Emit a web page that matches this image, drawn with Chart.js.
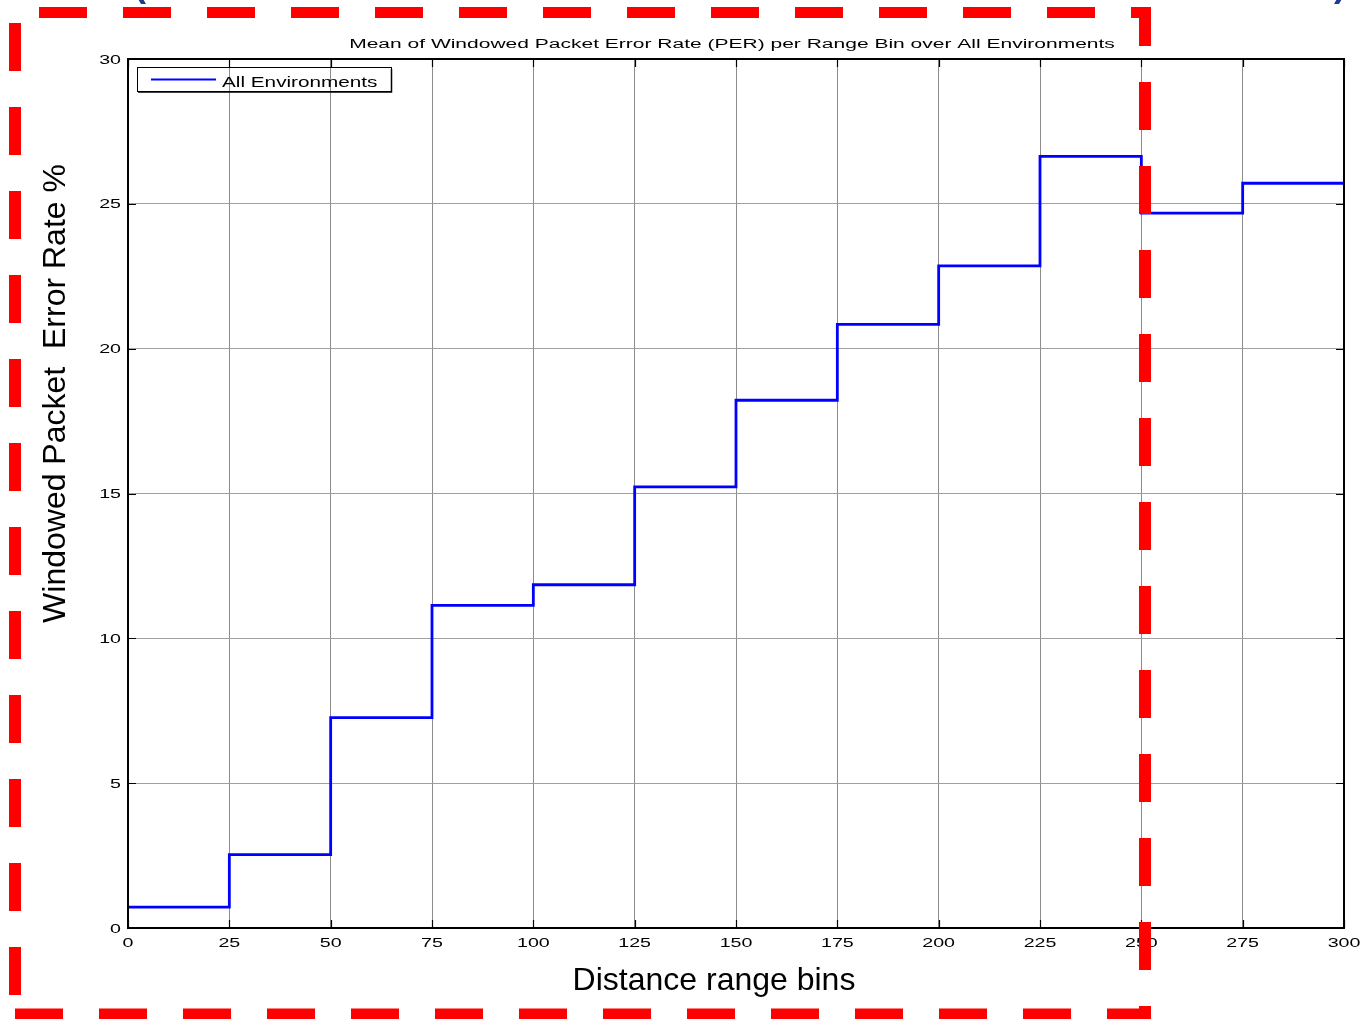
<!DOCTYPE html>
<html>
<head>
<meta charset="utf-8">
<title>Mean of Windowed Packet Error Rate per Range Bin</title>
<script src="https://cdn.jsdelivr.net/npm/chart.js@4/dist/chart.umd.min.js"></script>
<style>
  html, body { margin: 0; padding: 0; background: #ffffff; }
  #wrap { position: relative; width: 1363px; height: 1019px; }
</style>
</head>
<body>
<div id="wrap"><canvas id="perChart"></canvas></div>
<script>
// Range bin edges (m) and the mean windowed PER (%) of each bin
const rangeBinEdges = [0, 25, 50, 75, 100, 125, 150, 175, 200, 225, 250, 275, 300];
const meanPer = [0.72, 2.53, 7.26, 11.14, 11.85, 15.23, 18.22, 20.84, 22.86, 26.64, 24.68, 25.71];

// Axis tick values
const xTickValues = [0, 25, 50, 75, 100, 125, 150, 175, 200, 225, 250, 275, 300];
const yTickValues = [0, 5, 10, 15, 20, 25, 30];

// Texts
const seriesLabel = 'All Environments';
const chartTitle = 'Mean of Windowed Packet Error Rate (PER) per Range Bin over All Environments';
const xAxisTitle = 'Distance range bins';
const yAxisTitle = 'Windowed Packet  Error Rate %';

const FONT = "'Liberation Sans', Arial, sans-serif";
const STRETCH = 1.57;        // small figure text is horizontally widened
const TITLE_STRETCH = 1.68;
const LINE_BLUE = '#0000ff';

// Stairs: each bin value holds from its left edge to the next edge
const stairPoints = rangeBinEdges.map((x, i) => ({ x, y: meanPer[Math.min(i, meanPer.length - 1)] }));

function stretchedText(ctx, text, x, y, o) {
  ctx.save();
  ctx.font = (o.weight || 'normal') + ' ' + o.size + 'px ' + FONT;
  ctx.fillStyle = o.color || '#000000';
  ctx.textAlign = o.align || 'left';
  ctx.textBaseline = o.baseline || 'alphabetic';
  ctx.translate(x, y);
  if (o.rotate) ctx.rotate(o.rotate);
  ctx.scale(o.sx || 1, 1);
  ctx.fillText(text, 0, 0);
  ctx.restore();
}

function dashedStroke(ctx, x1, y1, x2, y2, width, offset) {
  ctx.save();
  ctx.strokeStyle = '#ff0000';
  ctx.lineWidth = width;
  ctx.lineCap = 'butt';
  ctx.setLineDash([48, 36]);
  ctx.lineDashOffset = offset;
  ctx.beginPath();
  ctx.moveTo(x1, y1);
  ctx.lineTo(x2, y2);
  ctx.stroke();
  ctx.restore();
}

// Axes box, inward tick marks, tick labels, titles and legend
const figureDecor = {
  id: 'figureDecor',
  afterDatasetsDraw(chart) {
    const { ctx, chartArea: a, scales: { x, y } } = chart;
    ctx.save();
    ctx.strokeStyle = '#000000';
    // inward ticks
    ctx.lineWidth = 1.2;
    ctx.beginPath();
    x.ticks.forEach(t => {
      const px = Math.round(x.getPixelForValue(t.value)) + 0.5;
      ctx.moveTo(px, a.bottom); ctx.lineTo(px, a.bottom - 8);
      ctx.moveTo(px, a.top); ctx.lineTo(px, a.top + 8);
    });
    y.ticks.forEach(t => {
      const py = Math.round(y.getPixelForValue(t.value)) + 0.5;
      ctx.moveTo(a.left, py); ctx.lineTo(a.left + 8, py);
      ctx.moveTo(a.right, py); ctx.lineTo(a.right - 8, py);
    });
    ctx.stroke();
    // axes box
    ctx.lineWidth = 2;
    ctx.strokeRect(a.left, a.top, a.right - a.left, a.bottom - a.top);
    ctx.restore();

    // tick labels
    x.ticks.forEach(t => {
      const label = t.label !== undefined ? String(t.label) : String(t.value);
      stretchedText(ctx, label, x.getPixelForValue(t.value), a.bottom + 19, { size: 12.5, sx: STRETCH, align: 'center' });
    });
    y.ticks.forEach(t => {
      const label = t.label !== undefined ? String(t.label) : String(t.value);
      stretchedText(ctx, label, a.left - 7, y.getPixelForValue(t.value) + 4.5, { size: 12.5, sx: STRETCH, align: 'right' });
    });

    // chart title
    stretchedText(ctx, chartTitle, (a.left + a.right) / 2 - 4, a.top - 11.5, { size: 12.5, sx: TITLE_STRETCH, align: 'center' });

    // axis titles
    stretchedText(ctx, xAxisTitle, (a.left + a.right) / 2 - 22, a.bottom + 62, { size: 32, align: 'center' });
    stretchedText(ctx, yAxisTitle, 65, (a.top + a.bottom) / 2 - 100, { size: 32, align: 'center', rotate: -Math.PI / 2 });

    // legend
    const ds = chart.data.datasets[0];
    ctx.save();
    ctx.strokeStyle = '#000000';
    ctx.lineWidth = 1;
    ctx.strokeRect(a.left + 9.5, a.top + 8.5, 254, 24);
    ctx.lineWidth = 1.5;
    ctx.beginPath();
    ctx.moveTo(a.left + 263.5, a.top + 10); ctx.lineTo(a.left + 263.5, a.top + 33);
    ctx.lineTo(a.left + 10, a.top + 33);
    ctx.stroke();
    ctx.strokeStyle = ds.borderColor;
    ctx.lineWidth = 2;
    ctx.beginPath();
    ctx.moveTo(a.left + 23, a.top + 20.5); ctx.lineTo(a.left + 88, a.top + 20.5);
    ctx.stroke();
    ctx.restore();
    stretchedText(ctx, ds.label, a.left + 94, a.top + 28, { size: 14, sx: 1.48 });
  },
  afterDraw(chart) {
    const ctx = chart.ctx;
    // heading fragments of the slide above the figure
    stretchedText(ctx, '(', 134, -4, { size: 36, weight: 'bold', color: '#1c3c8e' });
    stretchedText(ctx, ')', 1334, -4, { size: 36, weight: 'bold', color: '#1c3c8e' });
    // red dashed highlight frame
    dashedStroke(ctx, 39, 12.5, 1151, 12.5, 11, 0);
    dashedStroke(ctx, 1145, 7, 1145, 1019, 12, 9);
    dashedStroke(ctx, 15, 23, 15, 1000, 12, 0);
    dashedStroke(ctx, 15, 1014, 1151, 1014, 11, 0);
  }
};

new Chart(document.getElementById('perChart'), {
  type: 'line',
  data: {
    datasets: [{
      label: seriesLabel,
      data: stairPoints,
      stepped: true,
      borderColor: LINE_BLUE,
      backgroundColor: LINE_BLUE,
      borderWidth: 2.8,
      pointRadius: 0,
      pointHoverRadius: 0,
      fill: false
    }]
  },
  options: {
    responsive: true,
    maintainAspectRatio: false,
    animation: false,
    devicePixelRatio: 1,
    layout: { padding: { left: 0, top: 59, right: 19, bottom: 0 } },
    plugins: {
      legend: { display: false },
      title: { display: false },
      tooltip: { enabled: false }
    },
    scales: {
      x: {
        type: 'linear',
        min: 0,
        max: 300,
        afterBuildTicks: s => { s.ticks = xTickValues.map(v => ({ value: v })); },
        afterFit: s => { s.height = 91; },
        ticks: { display: false },
        grid: { color: '#8c8c8c', lineWidth: 1, drawTicks: false },
        border: { display: true, color: '#000000', width: 2 }
      },
      y: {
        type: 'linear',
        min: 0,
        max: 30,
        afterBuildTicks: s => { s.ticks = yTickValues.map(v => ({ value: v })); },
        afterFit: s => { s.width = 128; },
        ticks: { display: false },
        grid: { color: '#a0a0a0', lineWidth: 1, drawTicks: false },
        border: { display: true, color: '#000000', width: 2 }
      }
    }
  },
  plugins: [figureDecor]
});
</script>
</body>
</html>
